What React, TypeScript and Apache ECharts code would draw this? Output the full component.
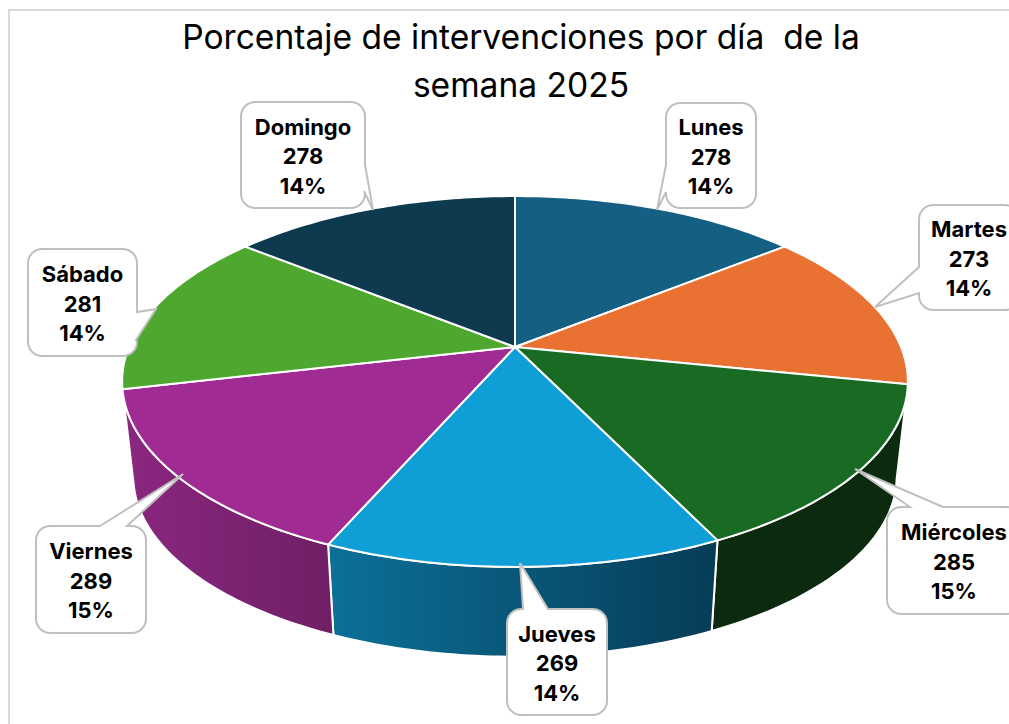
import React, { useEffect, useRef } from "react";
import * as echarts from "echarts";

const titleText = "Porcentaje de intervenciones por día  de la\nsemana 2025";
const days = ["Lunes", "Martes", "Miércoles", "Jueves", "Viernes", "Sábado", "Domingo"];
const counts = [278, 273, 285, 269, 289, 281, 278];
const topColors = ["#156082", "#E97132", "#196B24", "#0F9ED5", "#A02B93", "#4EA72E", "#0E3A50"];
const wallLeft = ["#0D3A4E", "#8C4A1E", "#0C2A0E", "#0C7099", "#8B2780", "#2F641C", "#082330"];
const wallRight = ["#0D3A4E", "#8C4A1E", "#0C2A0E", "#063C56", "#6F1F65", "#2F641C", "#082330"];

// Layout of the callouts: box [x, y, w, h], wedge [first base, tip, second base] in clockwise order
const boxes = [
  [666, 103, 90, 105],
  [919, 205, 100, 105],
  [887, 507, 134, 107],
  [507, 609, 100, 106],
  [36, 526, 110, 107],
  [28, 249, 109, 107],
  [241, 102, 124, 106],
];
const wedges = [
  [[666, 192], [657, 210], [666, 165]],
  [[919, 293], [875, 307], [919, 267]],
  [[910, 507], [855, 469], [943, 507]],
  [[523, 609], [520, 563], [548, 609]],
  [[100, 526], [183, 474], [127, 526]],
  [[137, 312], [156, 309], [136, 340]],
  [[365, 165], [373, 210], [364, 191]],
];

const total = counts.reduce((a, b) => a + b, 0);
const K = 0.186;
const project = (deg: number, A: number, B: number, yc: number) => {
  const t = (deg * Math.PI) / 180;
  const u = Math.sin(t);
  const v = Math.cos(t);
  const d = 1 + K * v;
  return [515 + (A * u) / d, yc - (B * v) / d];
};
const topPoint = (deg: number) => project(deg, 386, 179, 347);
const basePoint = (deg: number) => project(deg, 375, 174, 443);

const angleRange = (i: number) => {
  const before = counts.slice(0, i).reduce((a, b) => a + b, 0);
  return [(before / total) * 360, ((before + counts[i]) / total) * 360];
};
const arc = (a: number, b: number, f: (d: number) => number[]) => {
  const n = Math.max(2, Math.ceil(Math.abs(b - a)));
  const pts: number[][] = [];
  for (let j = 0; j <= n; j++) pts.push(f(a + ((b - a) * j) / n));
  return pts;
};

const calloutPoints = (i: number) => {
  const [x, y, w, h] = boxes[i];
  const r = 14;
  const corners: [number, number, number][] = [
    [x + w - r, y + r, -90],
    [x + w - r, y + h - r, 0],
    [x + r, y + h - r, 90],
    [x + r, y + r, 180],
  ];
  const [p1, tip, p2] = wedges[i];
  const side =
    Math.abs(p1[1] - y) < 1 ? 0 : Math.abs(p1[0] - (x + w)) < 4 ? 1 : Math.abs(p1[1] - (y + h)) < 1 ? 2 : 3;
  const out: number[][] = [];
  corners.forEach((c, k) => {
    if (k === side) out.push(p1, tip, p2);
    for (let a = 0; a <= 90; a += 15) {
      const t = ((c[2] + a) * Math.PI) / 180;
      out.push([c[0] + r * Math.cos(t), c[1] + r * Math.sin(t)]);
    }
  });
  return out;
};

const seriesData = counts.map((value, i) => ({ value, name: days[i] }));
const font = "Inter, 'Noto Sans', sans-serif";

export default function App() {
  const ref = useRef<HTMLDivElement>(null);
  useEffect(() => {
    document.body.style.margin = "0";
    const chart = echarts.init(ref.current!, null, { renderer: "svg" });
    chart.setOption({
      animation: false,
      backgroundColor: "#ffffff",
      title: {
        text: titleText,
        left: 516,
        top: 7,
        textAlign: "center",
        textStyle: { color: "#000000", fontFamily: font, fontWeight: 400, fontSize: 33.6, lineHeight: 48 },
      },
      graphic: [
        {
          type: "rect",
          shape: { x: 9, y: 10, width: 1100, height: 800 },
          style: { fill: "none", stroke: "#d9d9d9", lineWidth: 2 },
          silent: true,
        },
      ],
      series: [
        {
          type: "custom",
          coordinateSystem: "none",
          silent: true,
          data: seriesData,
          renderItem: (p: any) => {
            const i = p.dataIndex;
            const [a, b] = angleRange(i);
            const mid = (((a + b) / 2) * Math.PI) / 180;
            if (Math.cos(mid) > 0) return { type: "group", children: [] };
            const pts = [...arc(a, b, topPoint), ...arc(b, a, basePoint)];
            return {
              type: "polygon",
              shape: { points: pts },
              style: {
                fill: new echarts.graphic.LinearGradient(0, 0, 1, 0, [
                  { offset: 0, color: wallLeft[i] },
                  { offset: 1, color: wallRight[i] },
                ]),
                stroke: "#ffffff",
                lineWidth: 2,
                lineJoin: "round",
              },
            };
          },
        },
        {
          type: "custom",
          coordinateSystem: "none",
          silent: true,
          data: seriesData,
          renderItem: (p: any) => {
            const i = p.dataIndex;
            const [a, b] = angleRange(i);
            return {
              type: "polygon",
              shape: { points: [[515, 347], ...arc(a, b, topPoint)] },
              style: { fill: topColors[i], stroke: "#ffffff", lineWidth: 2, lineJoin: "round" },
            };
          },
        },
        {
          type: "custom",
          coordinateSystem: "none",
          silent: true,
          data: seriesData,
          renderItem: (p: any, api: any) => {
            const i = p.dataIndex;
            const [x, y, w, h] = boxes[i];
            const v = api.value(0);
            const pct = Math.round((v / total) * 100);
            return {
              type: "group",
              children: [
                {
                  type: "polygon",
                  shape: { points: calloutPoints(i) },
                  style: { fill: "#ffffff", stroke: "#bfbfbf", lineWidth: 2, lineJoin: "miter" },
                },
                {
                  type: "text",
                  x: x + w / 2,
                  y: y + h / 2 + 1,
                  style: {
                    text: `${days[i]}\n${v}\n${pct}%`,
                    align: "center",
                    verticalAlign: "middle",
                    fill: "#000000",
                    font: `700 22px ${font}`,
                    lineHeight: 29.5,
                  },
                },
              ],
            };
          },
        },
      ],
    });
    return () => chart.dispose();
  }, []);
  return <div ref={ref} style={{ width: 1009, height: 724, overflow: "hidden" }} />;
}
